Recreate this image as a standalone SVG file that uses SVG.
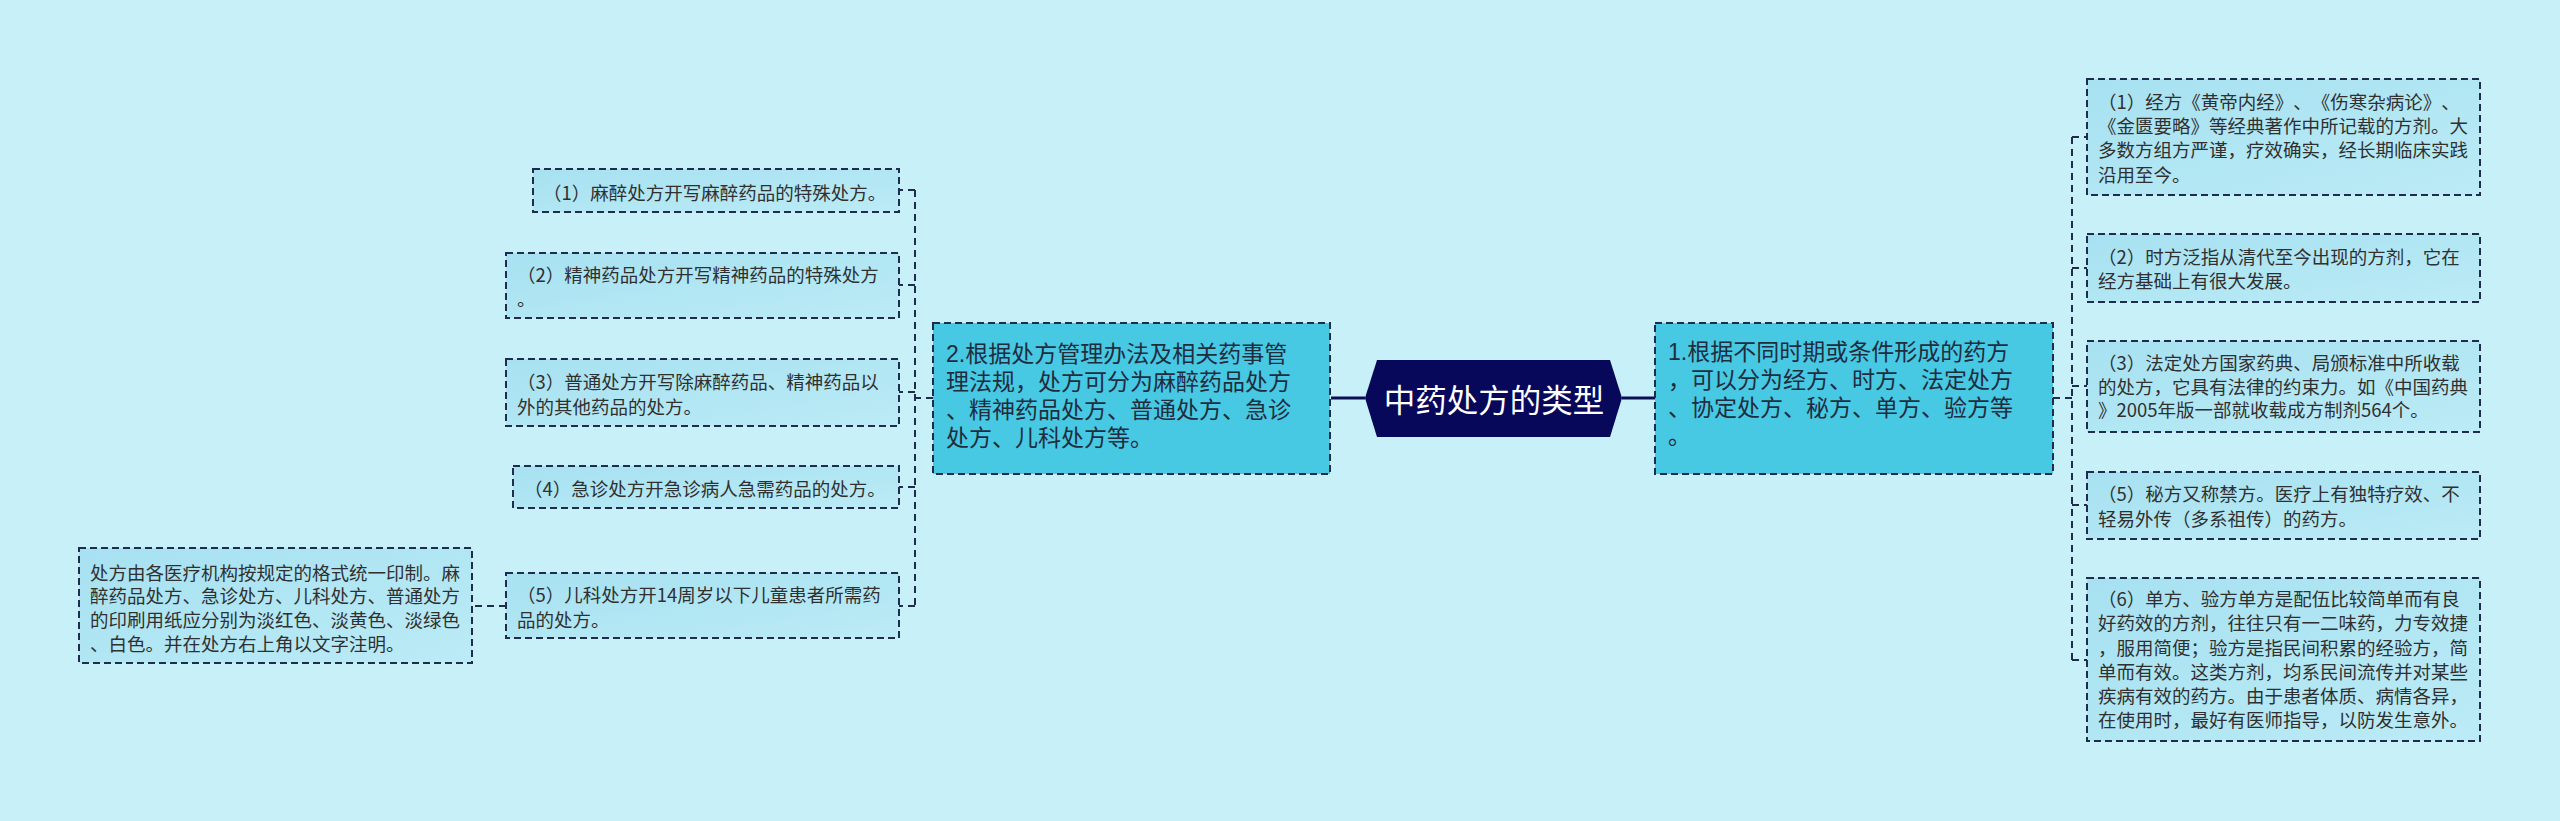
<svg xmlns="http://www.w3.org/2000/svg" width="2560" height="821" viewBox="0 0 2560 821">
<defs>
<linearGradient id="childFill" x1="0" y1="0" x2="1" y2="1">
<stop offset="0" stop-color="#a7e1f1"/>
<stop offset="1" stop-color="#bbebf6"/>
</linearGradient>
<style>
.bg{fill:#c8f0f8}
.child{fill:url(#childFill);stroke:#1f2c4c;stroke-width:2;stroke-dasharray:7 4}
.main{fill:#47c8e3;stroke:#1f2c4c;stroke-width:2;stroke-dasharray:7 4}
.conn{fill:none;stroke:#1f2c4c;stroke-width:2;stroke-dasharray:7 5}
.solid{fill:none;stroke:#0b0e52;stroke-width:3}
.hex{fill:#07085a}
text{text-spacing-trim:space-all}
.t{font-family:"Noto Sans CJK SC","Noto Sans",sans-serif;font-size:18.5px;fill:#303030}
.tm{font-family:"Liberation Sans","Noto Sans CJK SC",sans-serif;font-size:23px;fill:#1f2d3d}
.tc{font-family:"Noto Sans CJK SC","Noto Sans",sans-serif;font-size:31.5px;fill:#ffffff;text-anchor:middle}
</style>
</defs>
<rect class="bg" x="0" y="0" width="2560" height="821"/>

<g id="connectors">
<path class="solid" d="M1365,398 H1331"/>
<path class="solid" d="M1622,398 H1655"/>
<path class="conn" d="M2053,398 H2072 M2072,137 V660 M2072,137 H2087 M2072,268 H2087 M2072,386 H2087 M2072,505 H2087 M2072,660 H2087"/>
<path class="conn" d="M933,398 H915 M915,190 V606 M915,190 H899 M915,285 H899 M915,392 H899 M915,487 H899 M915,606 H899"/>
<path class="conn" d="M506,606 H472"/>
</g>

<g id="center">
<polygon class="hex" points="1365,398 1377,360 1610,360 1622,398 1610,437 1377,437"/>
<text class="tc" x="1494" y="412">中药处方的类型</text>
</g>

<g id="main-right">
<rect class="main" x="1655" y="323" width="398" height="151"/>
<text class="tm"><tspan x="1668" y="360">1.根据不同时期或条件形成的药方</tspan><tspan x="1668" y="388">，可以分为经方、时方、法定处方</tspan><tspan x="1668" y="416">、协定处方、秘方、单方、验方等</tspan><tspan x="1668" y="444">。</tspan></text>
</g>

<g id="main-left">
<rect class="main" x="933" y="323" width="397" height="151"/>
<text class="tm"><tspan x="946" y="362">2.根据处方管理办法及相关药事管</tspan><tspan x="946" y="390">理法规，处方可分为麻醉药品处方</tspan><tspan x="946" y="418">、精神药品处方、普通处方、急诊</tspan><tspan x="946" y="446">处方、儿科处方等。</tspan></text>
</g>

<g id="r1">
<rect class="child" x="2087" y="79" width="393" height="116"/>
<text class="t"><tspan x="2098" y="109">（1）经方《黄帝内经》、《伤寒杂病论》、</tspan><tspan x="2098" y="133">《金匮要略》等经典著作中所记载的方剂。大</tspan><tspan x="2098" y="157">多数方组方严谨，疗效确实，经长期临床实践</tspan><tspan x="2098" y="182">沿用至今。</tspan></text>
</g>

<g id="r2">
<rect class="child" x="2087" y="234" width="393" height="68"/>
<text class="t"><tspan x="2098" y="264">（2）时方泛指从清代至今出现的方剂，它在</tspan><tspan x="2098" y="288">经方基础上有很大发展。</tspan></text>
</g>

<g id="r3">
<rect class="child" x="2087" y="341" width="393" height="91"/>
<text class="t"><tspan x="2098" y="370">（3）法定处方国家药典、局颁标准中所收载</tspan><tspan x="2098" y="394">的处方，它具有法律的约束力。如《中国药典</tspan><tspan x="2098" y="417">》2005年版一部就收载成方制剂564个。</tspan></text>
</g>

<g id="r5">
<rect class="child" x="2087" y="472" width="393" height="67"/>
<text class="t"><tspan x="2098" y="501">（5）秘方又称禁方。医疗上有独特疗效、不</tspan><tspan x="2098" y="526">轻易外传（多系祖传）的药方。</tspan></text>
</g>

<g id="r6">
<rect class="child" x="2087" y="578" width="393" height="163"/>
<text class="t"><tspan x="2098" y="606">（6）单方、验方单方是配伍比较简单而有良</tspan><tspan x="2098" y="630">好药效的方剂，往往只有一二味药，力专效捷</tspan><tspan x="2098" y="655">，服用简便；验方是指民间积累的经验方，简</tspan><tspan x="2098" y="679">单而有效。这类方剂，均系民间流传并对某些</tspan><tspan x="2098" y="703">疾病有效的药方。由于患者体质、病情各异，</tspan><tspan x="2098" y="727">在使用时，最好有医师指导，以防发生意外。</tspan></text>
</g>

<g id="l1">
<rect class="child" x="533" y="169" width="366" height="43"/>
<text class="t"><tspan x="543" y="200">（1）麻醉处方开写麻醉药品的特殊处方。</tspan></text>
</g>

<g id="l2">
<rect class="child" x="506" y="253" width="393" height="65"/>
<text class="t"><tspan x="517" y="282">（2）精神药品处方开写精神药品的特殊处方</tspan><tspan x="517" y="306">。</tspan></text>
</g>

<g id="l3">
<rect class="child" x="506" y="359" width="393" height="67"/>
<text class="t"><tspan x="517" y="389">（3）普通处方开写除麻醉药品、精神药品以</tspan><tspan x="517" y="414">外的其他药品的处方。</tspan></text>
</g>

<g id="l4">
<rect class="child" x="513" y="466" width="386" height="42"/>
<text class="t"><tspan x="524" y="496">（4）急诊处方开急诊病人急需药品的处方。</tspan></text>
</g>

<g id="l5">
<rect class="child" x="506" y="573" width="393" height="65"/>
<text class="t"><tspan x="517" y="602">（5）儿科处方开14周岁以下儿童患者所需药</tspan><tspan x="517" y="627">品的处方。</tspan></text>
</g>

<g id="l5-note">
<rect class="child" x="79" y="548" width="393" height="115"/>
<text class="t"><tspan x="90" y="580">处方由各医疗机构按规定的格式统一印制。麻</tspan><tspan x="90" y="603">醉药品处方、急诊处方、儿科处方、普通处方</tspan><tspan x="90" y="627">的印刷用纸应分别为淡红色、淡黄色、淡绿色</tspan><tspan x="90" y="651">、白色。并在处方右上角以文字注明。</tspan></text>
</g>
</svg>
